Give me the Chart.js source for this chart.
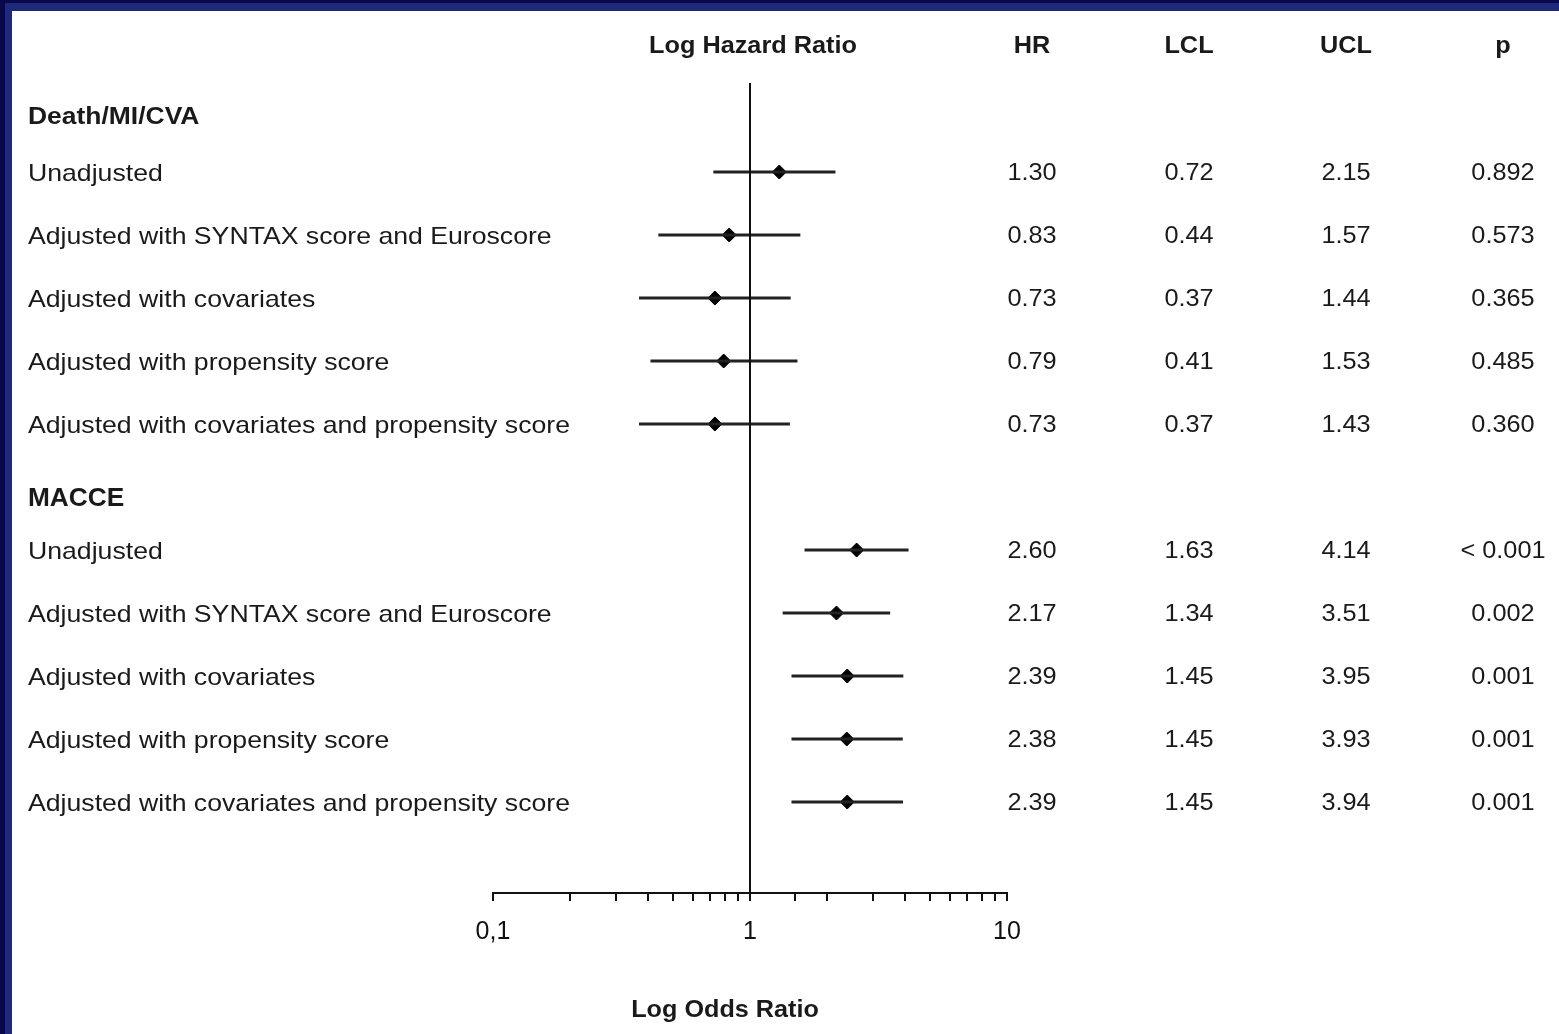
<!DOCTYPE html>
<html>
<head>
<meta charset="utf-8">
<script src="https://cdn.jsdelivr.net/npm/chart.js@4.4.0/dist/chart.umd.min.js"></script>
<style>
  body { margin: 0; overflow: hidden; background: #fff; }
  canvas { display: block; }
</style>
</head>
<body>
<canvas id="forest" width="1559" height="1034"></canvas>
<script>
// outcome groups and models
const groups = ['Death/MI/CVA', 'MACCE'];
const models = [
  'Unadjusted',
  'Adjusted with SYNTAX score and Euroscore',
  'Adjusted with covariates',
  'Adjusted with propensity score',
  'Adjusted with covariates and propensity score'
];

// Death/MI/CVA
const hrDeath  = [1.30, 0.83, 0.73, 0.79, 0.73];
const lclDeath = [0.72, 0.44, 0.37, 0.41, 0.37];
const uclDeath = [2.15, 1.57, 1.44, 1.53, 1.43];
const pDeath   = ['0.892', '0.573', '0.365', '0.485', '0.360'];

// MACCE
const hrMacce  = [2.60, 2.17, 2.39, 2.38, 2.39];
const lclMacce = [1.63, 1.34, 1.45, 1.45, 1.45];
const uclMacce = [4.14, 3.51, 3.95, 3.93, 3.94];
const pMacce   = ['< 0.001', '0.002', '0.001', '0.001', '0.001'];

const tickValues = [0.1, 1, 10];
const tickLabels = ['0,1', '1', '10'];

const columns = ['HR', 'LCL', 'UCL', 'p'];
const colX = [1032, 1189, 1346, 1503];

const hrAll  = [hrDeath, hrMacce];
const lclAll = [lclDeath, lclMacce];
const uclAll = [uclDeath, uclMacce];
const pAll   = [pDeath, pMacce];

function rowY(g, i) { return 1 + g * 6 + i; }
const headerY = [0.11, 6.16];
const yMin = -0.413, yMax = 12.444;

const datasets = [];
// reference line at HR = 1
datasets.push({
  data: [{ x: 1, y: yMin }, { x: 1, y: yMax }],
  showLine: true, borderColor: '#111', borderWidth: 2, pointRadius: 0
});
const points = [];
groups.forEach((g, gi) => {
  models.forEach((m, i) => {
    const y = rowY(gi, i);
    datasets.push({
      data: [{ x: lclAll[gi][i], y: y }, { x: uclAll[gi][i], y: y }],
      showLine: true, borderColor: '#222', borderWidth: 3, pointRadius: 0
    });
    points.push({ x: hrAll[gi][i], y: y });
  });
});
datasets.push({
  data: points,
  pointStyle: 'rectRot', pointRadius: 7,
  backgroundColor: '#000', borderColor: '#000', borderWidth: 1
});

function stretchText(ctx, text, x, y, font, align, sx) {
  ctx.save();
  ctx.font = font;
  ctx.textAlign = align;
  ctx.textBaseline = 'middle';
  ctx.translate(x, y + 2);
  ctx.scale(sx, 1);
  ctx.fillText(text, 0, 0);
  ctx.restore();
}

const frame = {
  id: 'frame',
  beforeDraw(chart) {
    const ctx = chart.ctx;
    ctx.save();
    ctx.fillStyle = '#fff';
    ctx.fillRect(0, 0, chart.width, chart.height);
    ctx.fillStyle = '#1f2a7a';
    ctx.fillRect(0, 0, chart.width, 11);
    ctx.fillRect(0, 0, 12, chart.height);
    ctx.fillStyle = '#08084a';
    ctx.fillRect(0, 0, chart.width, 3);
    ctx.fillRect(0, 0, 5, chart.height);
    ctx.restore();
  }
};

const table = {
  id: 'table',
  afterDraw(chart) {
    const ctx = chart.ctx;
    const ys = chart.scales.y;
    const xs = chart.scales.x;
    ctx.fillStyle = '#1a1a1a';
    const headY = ys.getPixelForValue(-1.016);
    stretchText(ctx, 'Log Hazard Ratio', xs.getPixelForValue(1) + 3, headY, 'bold 23px "Liberation Sans", Arial', 'center', 1.1);
    columns.forEach((c, ci) => {
      stretchText(ctx, c, colX[ci], headY, 'bold 23px "Liberation Sans", Arial', 'center', 1.1);
    });
    groups.forEach((g, gi) => {
      const font = gi === 0 ? 'bold 23px "Liberation Sans", Arial' : 'bold 25px "Liberation Sans", Arial';
      stretchText(ctx, g, 28, ys.getPixelForValue(headerY[gi]), font, 'left', gi === 0 ? 1.15 : 1.05);
      models.forEach((m, i) => {
        const y = ys.getPixelForValue(rowY(gi, i));
        stretchText(ctx, m, 28, y, '24px "Liberation Sans", Arial', 'left', 1.11);
        const vals = [hrAll[gi][i].toFixed(2), lclAll[gi][i].toFixed(2), uclAll[gi][i].toFixed(2), pAll[gi][i]];
        vals.forEach((v, ci) => {
          stretchText(ctx, v, colX[ci], y, '23px "Liberation Sans", Arial', 'center', 1.1);
        });
      });
    });
    stretchText(ctx, 'Log Odds Ratio', 725, 1008, 'bold 24px "Liberation Sans", Arial', 'center', 1.05);
  }
};

new Chart(document.getElementById('forest'), {
  type: 'scatter',
  data: { datasets: datasets },
  options: {
    responsive: false,
    animation: false,
    layout: { padding: { left: 493, right: 552, top: 83, bottom: 0 } },
    plugins: { legend: { display: false }, tooltip: { enabled: false } },
    scales: {
      x: {
        type: 'logarithmic',
        min: 0.1,
        max: 10,
        afterFit: (scale) => { scale.height = 141; },
        border: { display: true, color: '#111', width: 2 },
        grid: { display: true, drawOnChartArea: false, drawTicks: true, tickLength: 8, color: '#111', lineWidth: 2 },
        ticks: {
          autoSkip: false,
          maxRotation: 0,
          padding: 16,
          color: '#111',
          font: { family: '"Liberation Sans", Arial', size: 25 },
          callback: (v) => {
            const k = tickValues.findIndex(t => Math.abs(t - v) < 1e-9);
            return k >= 0 ? tickLabels[k] : '';
          }
        }
      },
      y: {
        type: 'linear',
        min: yMin,
        max: yMax,
        reverse: true,
        display: false
      }
    }
  },
  plugins: [frame, table]
});
</script>
</body>
</html>
